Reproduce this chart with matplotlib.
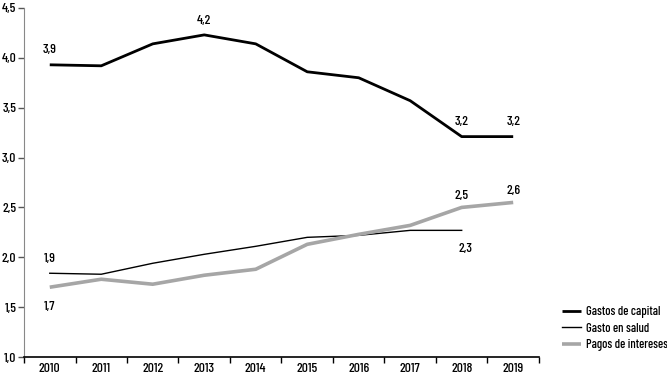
import matplotlib
matplotlib.use("Agg")
import matplotlib.pyplot as plt
from matplotlib.ticker import FixedLocator, FuncFormatter

plt.rcParams['font.family'] = ['Barlow Condensed', 'DejaVu Sans']
plt.rcParams['font.weight'] = 500

years = ['2010', '2011', '2012', '2013', '2014', '2015', '2016', '2017', '2018', '2019']
gastos_capital = [3.93, 3.92, 4.14, 4.23, 4.14, 3.86, 3.80, 3.57, 3.21, 3.21]
gasto_salud = [1.84, 1.83, 1.94, 2.03, 2.11, 2.20, 2.22, 2.27, 2.27]
pagos_intereses = [1.70, 1.78, 1.73, 1.82, 1.88, 2.13, 2.23, 2.32, 2.50, 2.55]

labels_capital = {0: '3,9', 3: '4,2', 8: '3,2', 9: '3,2'}
labels_salud = {0: '1,9', 8: '2,3'}
labels_intereses = {0: '1,7', 8: '2,5', 9: '2,6'}

fig = plt.figure(figsize=(6.67, 3.79), dpi=100)
ax = fig.add_axes([0.036, 0.058, 0.772, 0.921])

x = list(range(len(years)))
ax.plot(x, gastos_capital, color='black', lw=2.0, label='Gastos de capital', solid_capstyle='butt')
ax.plot(x[:len(gasto_salud)], gasto_salud, color='black', lw=1.0, label='Gasto en salud')
ax.plot(x, pagos_intereses, color='#a6a6a6', lw=2.6, label='Pagos de intereses', solid_capstyle='butt')

fs = 9.8
for i, t in labels_capital.items():
    ax.annotate(t, (i, gastos_capital[i]), xytext=(0, 6), textcoords='offset points',
                ha='center', va='bottom', fontsize=fs)
ax.annotate(labels_salud[0], (0, gasto_salud[0]), xytext=(0, 6), textcoords='offset points',
            ha='center', va='bottom', fontsize=fs)
ax.annotate(labels_salud[8], (8, gasto_salud[8]), xytext=(3, -9), textcoords='offset points',
            ha='center', va='top', fontsize=fs)
ax.annotate(labels_intereses[0], (0, pagos_intereses[0]), xytext=(0, -10), textcoords='offset points',
            ha='center', va='top', fontsize=fs)
for i in (8, 9):
    ax.annotate(labels_intereses[i], (i, pagos_intereses[i]), xytext=(0, 4), textcoords='offset points',
                ha='center', va='bottom', fontsize=fs)

ax.set_xlim(-0.5, 9.5)
ax.set_ylim(1.0, 4.5)
ax.xaxis.set_major_locator(FixedLocator([i - 0.5 for i in range(len(years) + 1)]))
ax.xaxis.set_major_formatter(FuncFormatter(lambda v, p: ''))
ax.set_xticks(x, minor=True)
ax.set_xticklabels(years, minor=True, fontsize=fs)
ax.tick_params(axis='x', which='major', length=4, width=1, direction='out', color='black')
ax.tick_params(axis='x', which='minor', length=0, pad=4)

yt = [1.0, 1.5, 2.0, 2.5, 3.0, 3.5, 4.0, 4.5]
ax.set_yticks(yt)
ax.set_yticklabels([f'{v:.1f}'.replace('.', ',') for v in yt], fontsize=fs)
ax.tick_params(axis='y', length=4, width=1, direction='out', color='#555555', pad=1.5)

for s in ('top', 'right'):
    ax.spines[s].set_visible(False)
ax.spines['left'].set_color('#888888')
ax.spines['bottom'].set_color('black')
ax.spines['bottom'].set_linewidth(1.2)

fig.legend(loc='upper left', bbox_to_anchor=(0.835, 0.205), frameon=False, fontsize=9,
           handlelength=1.5, handletextpad=0.4, labelspacing=0.35, borderaxespad=0)

fig.savefig('out.png', dpi=100)
